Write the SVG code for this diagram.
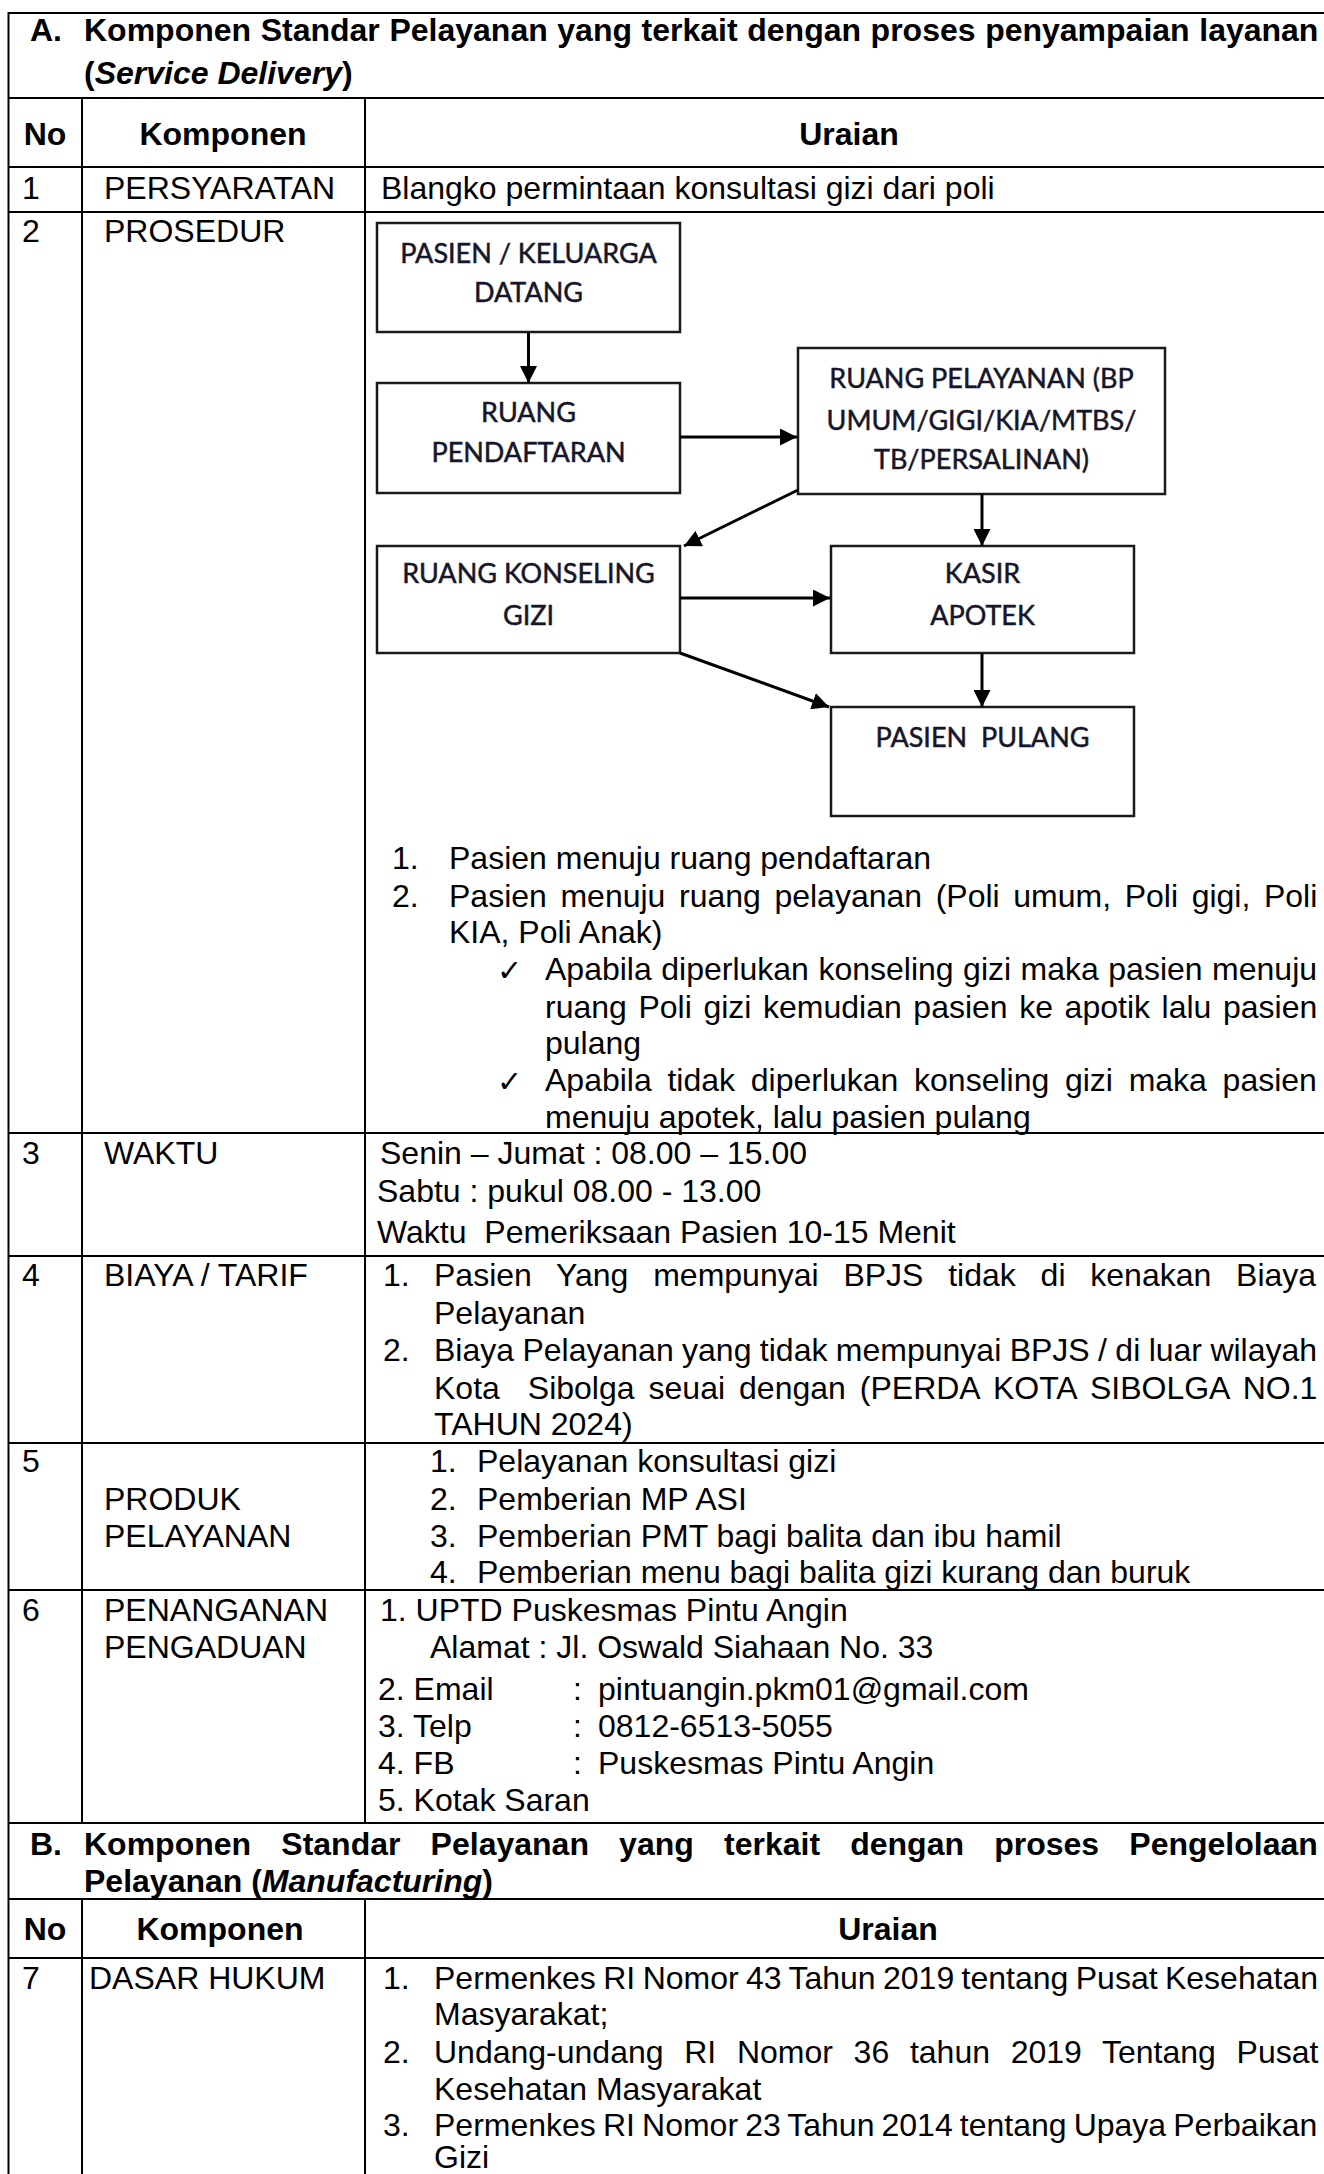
<svg xmlns="http://www.w3.org/2000/svg" width="1324" height="2174" viewBox="0 0 1324 2174">
<defs>
<style>
.t{font-family:"Liberation Sans",Arial,sans-serif;font-size:32px;fill:#000}
.b{font-weight:bold}
.i{font-style:italic}
.m{text-anchor:middle}
.g{stroke:#000;stroke-width:2;fill:none}
.box{fill:#fff;stroke:#1a1a1a;stroke-width:2.5}
.fc{font-family:Lato,"Open Sans",sans-serif;font-size:27px;fill:#16162a;stroke:#16162a;stroke-width:0.5;text-anchor:middle}
.ar{stroke:#000;stroke-width:3;fill:none;marker-end:url(#ah)}
.ck{font-family:"DejaVu Sans",sans-serif;font-size:30px;fill:#000}
</style>
<marker id="ah" markerUnits="userSpaceOnUse" markerWidth="17" markerHeight="17" viewBox="0 0 10 10" refX="10" refY="5" orient="auto"><path d="M0,0 L10,5 L0,10 z" fill="#000"/></marker>
</defs>
<rect width="1324" height="2174" fill="#fff"/>

<g id="grid">
<path class="g" d="M8,13H1324 M8,98H1324 M8,167H1324 M8,212H1324 M8,1133H1324 M8,1256H1324 M8,1443H1324 M8,1590H1324 M8,1823H1324 M8,1899H1324 M8,1958H1324"/>
<path class="g" d="M8.5,12V2174 M82,98V1823 M365,98V1823 M82,1899V2174 M365,1899V2174"/>
</g>

<g id="sectionA-title">
<text class="t b" x="30" y="41">A.</text>
<text class="t b" x="84" y="41" word-spacing="0.7">Komponen Standar Pelayanan yang terkait dengan proses penyampaian layanan</text>
<text class="t b" x="84" y="84">(<tspan class="i">Service Delivery</tspan>)</text>
</g>

<g id="sectionA-header">
<text class="t b m" x="45" y="145">No</text>
<text class="t b m" x="223" y="145">Komponen</text>
<text class="t b m" x="849" y="145">Uraian</text>
</g>

<g id="row1">
<text class="t" x="22" y="199">1</text>
<text class="t" x="104" y="199">PERSYARATAN</text>
<text class="t" x="381" y="199">Blangko permintaan konsultasi gizi dari poli</text>
</g>

<g id="row2">
<text class="t" x="22" y="242">2</text>
<text class="t" x="104" y="242">PROSEDUR</text>
</g>

<g id="flow-pasien-datang">
<rect class="box" x="377" y="223" width="303" height="109"/>
<text class="fc" x="528.5" y="263">PASIEN / KELUARGA</text>
<text class="fc" x="528.5" y="302">DATANG</text>
</g>
<g id="flow-pendaftaran">
<rect class="box" x="377" y="383" width="303" height="110"/>
<text class="fc" x="528.5" y="422">RUANG</text>
<text class="fc" x="528.5" y="462">PENDAFTARAN</text>
</g>
<g id="flow-pelayanan">
<rect class="box" x="798" y="348" width="367" height="146"/>
<text class="fc" x="981.5" y="388">RUANG PELAYANAN (BP</text>
<text class="fc" x="981.5" y="430">UMUM/GIGI/KIA/MTBS/</text>
<text class="fc" x="981.5" y="469">TB/PERSALINAN)</text>
</g>
<g id="flow-konseling">
<rect class="box" x="377" y="546" width="303" height="107"/>
<text class="fc" x="528.5" y="583">RUANG KONSELING</text>
<text class="fc" x="528.5" y="625">GIZI</text>
</g>
<g id="flow-kasir">
<rect class="box" x="831" y="546" width="303" height="107"/>
<text class="fc" x="982.5" y="583">KASIR</text>
<text class="fc" x="982.5" y="625">APOTEK</text>
</g>
<g id="flow-pulang">
<rect class="box" x="831" y="707" width="303" height="109"/>
<text class="fc" x="982.5" y="747" xml:space="preserve">PASIEN  PULANG</text>
</g>

<g id="connectors">
<line class="ar" x1="528.5" y1="332" x2="528.5" y2="383"/>
<line class="ar" x1="680" y1="437" x2="797" y2="437"/>
<line class="ar" x1="798" y1="490" x2="684" y2="546"/>
<line class="ar" x1="982" y1="494" x2="982" y2="546"/>
<line class="ar" x1="680" y1="598" x2="830" y2="598"/>
<line class="ar" x1="680" y1="653" x2="829" y2="707"/>
<line class="ar" x1="982" y1="653" x2="982" y2="707"/>
</g>

<g id="row2-list">
<text class="t" x="392" y="869">1.</text>
<text class="t" x="449" y="869">Pasien menuju ruang pendaftaran</text>
<text class="t" x="392" y="907">2.</text>
<text class="t" x="449" y="907" word-spacing="4.7">Pasien menuju ruang pelayanan (Poli umum, Poli gigi, Poli</text>
<text class="t" x="449" y="943">KIA, Poli Anak)</text>
<text class="ck" x="497" y="981">✓</text>
<text class="t" x="545" y="980" word-spacing="0.6">Apabila diperlukan konseling gizi maka pasien menuju</text>
<text class="t" x="545" y="1018" word-spacing="2.7">ruang Poli gizi kemudian pasien ke apotik lalu pasien</text>
<text class="t" x="545" y="1054">pulang</text>
<text class="ck" x="497" y="1092">✓</text>
<text class="t" x="545" y="1091" word-spacing="6.8">Apabila tidak diperlukan konseling gizi maka pasien</text>
<text class="t" x="545" y="1128">menuju apotek, lalu pasien pulang</text>
</g>

<g id="row3">
<text class="t" x="22" y="1164">3</text>
<text class="t" x="104" y="1164">WAKTU</text>
<text class="t" x="380" y="1164">Senin – Jumat : 08.00 – 15.00</text>
<text class="t" x="377" y="1202">Sabtu : pukul 08.00 - 13.00</text>
<text class="t" x="377" y="1243" xml:space="preserve">Waktu  Pemeriksaan Pasien 10-15 Menit</text>
</g>

<g id="row4">
<text class="t" x="22" y="1286">4</text>
<text class="t" x="104" y="1286">BIAYA / TARIF</text>
<text class="t" x="383" y="1286">1.</text>
<text class="t" x="434" y="1286" word-spacing="15.9">Pasien Yang mempunyai BPJS tidak di kenakan Biaya</text>
<text class="t" x="434" y="1324">Pelayanan</text>
<text class="t" x="383" y="1361">2.</text>
<text class="t" x="434" y="1361" word-spacing="-0.5">Biaya Pelayanan yang tidak mempunyai BPJS / di luar wilayah</text>
<text class="t" x="434" y="1399" word-spacing="5.1" xml:space="preserve">Kota  Sibolga seuai dengan (PERDA KOTA SIBOLGA NO.1</text>
<text class="t" x="434" y="1435">TAHUN 2024)</text>
</g>

<g id="row5">
<text class="t" x="22" y="1472">5</text>
<text class="t" x="104" y="1510">PRODUK</text>
<text class="t" x="104" y="1547">PELAYANAN</text>
<text class="t" x="430" y="1472">1.</text>
<text class="t" x="477" y="1472">Pelayanan konsultasi gizi</text>
<text class="t" x="430" y="1510">2.</text>
<text class="t" x="477" y="1510">Pemberian MP ASI</text>
<text class="t" x="430" y="1547">3.</text>
<text class="t" x="477" y="1547">Pemberian PMT bagi balita dan ibu hamil</text>
<text class="t" x="430" y="1583">4.</text>
<text class="t" x="477" y="1583">Pemberian menu bagi balita gizi kurang dan buruk</text>
</g>

<g id="row6">
<text class="t" x="22" y="1621">6</text>
<text class="t" x="104" y="1621">PENANGANAN</text>
<text class="t" x="104" y="1658">PENGADUAN</text>
<text class="t" x="380" y="1621">1. UPTD Puskesmas Pintu Angin</text>
<text class="t" x="430" y="1658">Alamat : Jl. Oswald Siahaan No. 33</text>
<text class="t" x="378" y="1700">2. Email</text>
<text class="t" x="573" y="1700">:</text>
<text class="t" x="598" y="1700">pintuangin.pkm01@gmail.com</text>
<text class="t" x="378" y="1737">3. Telp</text>
<text class="t" x="573" y="1737">:</text>
<text class="t" x="598" y="1737">0812-6513-5055</text>
<text class="t" x="378" y="1774">4. FB</text>
<text class="t" x="573" y="1774">:</text>
<text class="t" x="598" y="1774">Puskesmas Pintu Angin</text>
<text class="t" x="378" y="1811">5. Kotak Saran</text>
</g>

<g id="sectionB-title">
<text class="t b" x="30" y="1855">B.</text>
<text class="t b" x="84" y="1855" word-spacing="21.3">Komponen Standar Pelayanan yang terkait dengan proses Pengelolaan</text>
<text class="t b" x="84" y="1892">Pelayanan (<tspan class="i">Manufacturing</tspan>)</text>
</g>

<g id="sectionB-header">
<text class="t b m" x="45" y="1940">No</text>
<text class="t b m" x="220" y="1940">Komponen</text>
<text class="t b m" x="888" y="1940">Uraian</text>
</g>

<g id="row7">
<text class="t" x="22" y="1989">7</text>
<text class="t" x="89" y="1989">DASAR HUKUM</text>
<text class="t" x="383" y="1989">1.</text>
<text class="t" x="434" y="1989" word-spacing="-1.5">Permenkes RI Nomor 43 Tahun 2019 tentang Pusat Kesehatan</text>
<text class="t" x="434" y="2025">Masyarakat;</text>
<text class="t" x="383" y="2063">2.</text>
<text class="t" x="434" y="2063" word-spacing="11.8">Undang-undang RI Nomor 36 tahun 2019 Tentang Pusat</text>
<text class="t" x="434" y="2100">Kesehatan Masyarakat</text>
<text class="t" x="383" y="2136">3.</text>
<text class="t" x="434" y="2136" word-spacing="-1.8">Permenkes RI Nomor 23 Tahun 2014 tentang Upaya Perbaikan</text>
<text class="t" x="434" y="2168">Gizi</text>
</g>
</svg>
